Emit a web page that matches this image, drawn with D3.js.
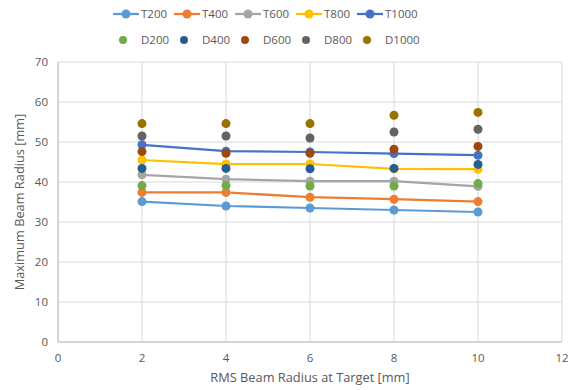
<!DOCTYPE html>
<html>
<head>
<meta charset="utf-8">
<script src="https://cdn.jsdelivr.net/npm/d3@7"></script>
<style>
  body { margin: 0; background: #fff; }
  svg { font-family: "Open Sans", "Liberation Sans", sans-serif; }
</style>
</head>
<body>
<svg id="chart" width="576" height="390"></svg>
<script>
// data
const xValues = [2, 4, 6, 8, 10];
const lineNames = ["T200", "T400", "T600", "T800", "T1000"];
const dotNames = ["D200", "D400", "D600", "D800", "D1000"];
const T200 = [35.1, 34.0, 33.5, 33.0, 32.5];
const T400 = [37.4, 37.4, 36.2, 35.7, 35.1];
const T600 = [41.8, 40.7, 40.2, 40.2, 38.9];
const T800 = [45.5, 44.5, 44.5, 43.3, 43.2];
const T1000 = [49.3, 47.7, 47.5, 47.1, 46.7];
const D200 = [39.1, 39.1, 39.0, 39.0, 39.6];
const D400 = [43.4, 43.4, 43.3, 43.4, 44.4];
const D600 = [47.6, 47.2, 47.2, 48.2, 48.9];
const D800 = [51.5, 51.5, 51.0, 52.5, 53.2];
const D1000 = [54.6, 54.6, 54.6, 56.7, 57.4];
const xTicks = [0, 2, 4, 6, 8, 10, 12];
const yTicks = [0, 10, 20, 30, 40, 50, 60, 70];

const lineSeries = [T200, T400, T600, T800, T1000];
const dotSeries = [D200, D400, D600, D800, D1000];
const lineColors = ["#5b9bd5", "#ed7d31", "#a5a5a5", "#ffc000", "#4472c4"];
const dotColors = ["#70ad47", "#255e91", "#9e480e", "#636363", "#997300"];

const svg = d3.select("#chart");
const margin = {left: 58, right: 14, top: 62, bottom: 48};
const W = 576, H = 390;

const x = d3.scaleLinear().domain([0, 12]).range([margin.left, W - margin.right]);
const y = d3.scaleLinear().domain([0, 70]).range([H - margin.bottom, margin.top]);

const textColor = "#595959";

// grid
const grid = svg.append("g");
grid.selectAll(".hg").data(yTicks).join("line")
  .attr("x1", x(0)).attr("x2", x(12))
  .attr("y1", d => y(d)).attr("y2", d => y(d))
  .attr("stroke", "#d9d9d9").attr("stroke-width", 1);
grid.selectAll(".vg").data(xTicks).join("line")
  .attr("x1", d => x(d)).attr("x2", d => x(d))
  .attr("y1", y(0)).attr("y2", y(70))
  .attr("stroke", "#d9d9d9").attr("stroke-width", 1);
// axis lines a bit darker
svg.append("line").attr("x1", x(0)).attr("x2", x(12)).attr("y1", y(0)).attr("y2", y(0))
  .attr("stroke", "#bfbfbf");
svg.append("line").attr("x1", x(0)).attr("x2", x(0)).attr("y1", y(0)).attr("y2", y(70))
  .attr("stroke", "#bfbfbf");

// tick labels
svg.append("g").selectAll("text").data(xTicks).join("text")
  .attr("x", d => x(d)).attr("y", y(0) + 20)
  .attr("text-anchor", "middle").attr("font-size", 11.5).attr("fill", textColor)
  .text(d => d);
svg.append("g").selectAll("text").data(yTicks).join("text")
  .attr("x", x(0) - 10).attr("y", d => y(d) + 4)
  .attr("text-anchor", "end").attr("font-size", 11.5).attr("fill", textColor)
  .text(d => d);

// axis titles
svg.append("text")
  .attr("x", (x(0) + x(12)) / 2).attr("y", H - 8)
  .attr("text-anchor", "middle").attr("font-size", 12.8).attr("fill", textColor)
  .text("RMS Beam Radius at Target [mm]");
svg.append("text")
  .attr("transform", `translate(24,${(y(0) + y(70)) / 2}) rotate(-90)`)
  .attr("text-anchor", "middle").attr("font-size", 12.8).attr("fill", textColor)
  .text("Maximum Beam Radius [mm]");

// lines with markers
const line = d3.line().x((d, i) => x(xValues[i])).y(d => y(d));
lineSeries.forEach((s, k) => {
  const g = svg.append("g");
  g.append("path").datum(s).attr("d", line)
    .attr("fill", "none").attr("stroke", lineColors[k]).attr("stroke-width", 2.25);
  g.selectAll("circle").data(s).join("circle")
    .attr("cx", (d, i) => x(xValues[i])).attr("cy", d => y(d))
    .attr("r", 4.5).attr("fill", lineColors[k]);
});

// dot-only series on top
dotSeries.forEach((s, k) => {
  svg.append("g").selectAll("circle").data(s).join("circle")
    .attr("cx", (d, i) => x(xValues[i])).attr("cy", d => y(d))
    .attr("r", 4.5).attr("fill", dotColors[k]);
});

// legend
const legend = svg.append("g").attr("font-size", 11.5).attr("fill", textColor);
lineNames.forEach((n, k) => {
  const lx = 113 + k * 61, ly = 14;
  legend.append("line").attr("x1", lx).attr("x2", lx + 26).attr("y1", ly).attr("y2", ly)
    .attr("stroke", lineColors[k]).attr("stroke-width", 2.25);
  legend.append("circle").attr("cx", lx + 13).attr("cy", ly).attr("r", 4.5).attr("fill", lineColors[k]);
  legend.append("text").attr("x", lx + 28).attr("y", ly + 4).text(n);
});
dotNames.forEach((n, k) => {
  const lx = 113 + k * 61, ly = 40;
  legend.append("circle").attr("cx", lx + 10).attr("cy", ly).attr("r", 4).attr("fill", dotColors[k]);
  legend.append("text").attr("x", lx + 28).attr("y", ly + 4).text(n);
});
</script>
</body>
</html>
